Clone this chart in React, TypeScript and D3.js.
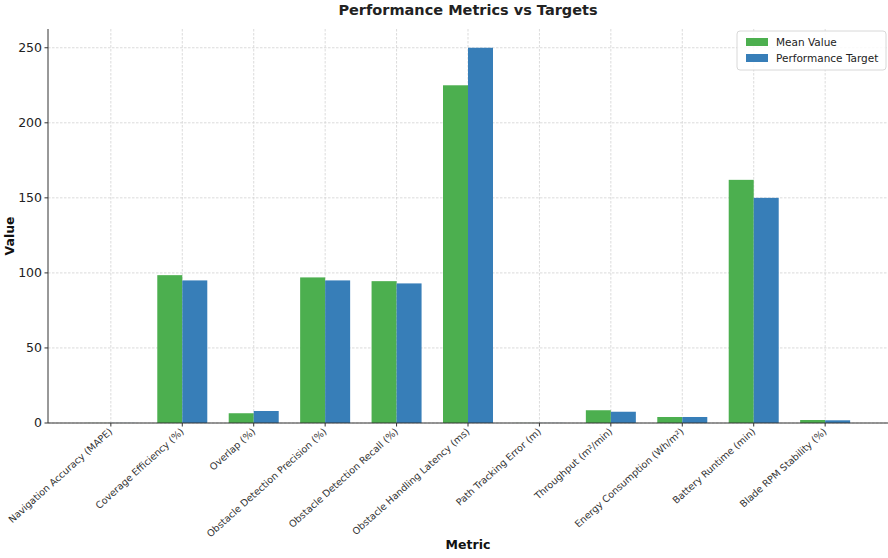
import React from "react";
import * as d3 from "d3";

const metrics = [
  "Navigation Accuracy (MAPE)",
  "Coverage Efficiency (%)",
  "Overlap (%)",
  "Obstacle Detection Precision (%)",
  "Obstacle Detection Recall (%)",
  "Obstacle Handling Latency (ms)",
  "Path Tracking Error (m)",
  "Throughput (m²/min)",
  "Energy Consumption (Wh/m²)",
  "Battery Runtime (min)",
  "Blade RPM Stability (%)",
];
const meanValues = [0.05, 98.5, 6.5, 97, 94.5, 225, 0.05, 8.5, 4, 162, 2];
const targetValues = [0.05, 95, 8, 95, 93, 250, 0.05, 7.5, 4, 150, 1.8];
const yTicks = [0, 50, 100, 150, 200, 250];

const W = 888;
const H = 558;
const M = { left: 48, right: 888, top: 29, bottom: 423 };
const GREEN = "#4caf4f";
const BLUE = "#377eb8";
const FONT = "DejaVu Sans, sans-serif";

export default function App() {
  const x = d3
    .scaleLinear()
    .domain([-0.88, metrics.length - 1 + 0.88])
    .range([M.left, M.right]);
  const y = d3.scaleLinear().domain([0, 262.5]).range([M.bottom, M.top]);
  const bw = 0.35;
  const barW = x(bw) - x(0);

  return (
    <svg
      width={W}
      height={H}
      style={{ position: "absolute", left: 0, top: 0, background: "#fff" }}
      fontFamily={FONT}
    >
      {/* grid */}
      {yTicks.map((t) => (
        <line
          key={"gy" + t}
          x1={M.left}
          x2={M.right}
          y1={y(t)}
          y2={y(t)}
          stroke="#d2d2d2"
          strokeWidth={0.8}
          strokeDasharray="2.5,1.5"
        />
      ))}
      {metrics.map((m, i) => (
        <line
          key={"gx" + i}
          x1={x(i)}
          x2={x(i)}
          y1={M.top}
          y2={M.bottom}
          stroke="#d2d2d2"
          strokeWidth={0.8}
          strokeDasharray="2.5,1.5"
        />
      ))}

      {/* bars */}
      {meanValues.map((v, i) => (
        <rect
          key={"m" + i}
          x={x(i - bw)}
          y={y(v)}
          width={barW}
          height={y(0) - y(v)}
          fill={GREEN}
        />
      ))}
      {targetValues.map((v, i) => (
        <rect
          key={"t" + i}
          x={x(i)}
          y={y(v)}
          width={barW}
          height={y(0) - y(v)}
          fill={BLUE}
        />
      ))}

      {/* axes */}
      <line x1={M.left} x2={M.left} y1={M.top} y2={M.bottom} stroke="#333" strokeWidth={1} />
      <line x1={M.left} x2={M.right} y1={M.bottom} y2={M.bottom} stroke="#333" strokeWidth={1} />
      {yTicks.map((t) => (
        <g key={"yt" + t}>
          <line x1={M.left - 3.5} x2={M.left} y1={y(t)} y2={y(t)} stroke="#333" />
          <text
            x={M.left - 6}
            y={y(t)}
            dy="0.35em"
            textAnchor="end"
            fontSize={12.5}
            fill="#222"
          >
            {t}
          </text>
        </g>
      ))}
      {metrics.map((m, i) => (
        <g key={"xt" + i}>
          <line x1={x(i)} x2={x(i)} y1={M.bottom} y2={M.bottom + 3.5} stroke="#333" />
          <text
            transform={`translate(${x(i)},${M.bottom + 7}) rotate(-42)`}
            textAnchor="end"
            dy="0.35em"
            fontSize={9.6}
            fill="#333"
          >
            {m}
          </text>
        </g>
      ))}

      {/* labels */}
      <text
        x={(M.left + M.right) / 2}
        y={15}
        textAnchor="middle"
        fontSize={14.5}
        fontWeight="bold"
        fill="#222"
      >
        Performance Metrics vs Targets
      </text>
      <text
        x={(M.left + M.right) / 2}
        y={549}
        textAnchor="middle"
        fontSize={12.5}
        fontWeight="bold"
        fill="#111"
      >
        Metric
      </text>
      <text
        transform={`translate(14,${(M.top + M.bottom) / 2 + 10}) rotate(-90)`}
        textAnchor="middle"
        fontSize={12.5}
        fontWeight="bold"
        fill="#111"
      >
        Value
      </text>

      {/* legend */}
      <g transform="translate(737,31)">
        <rect
          width={149}
          height={39}
          rx={3}
          fill="#fff"
          fillOpacity={0.85}
          stroke="#d8d8d8"
        />
        <rect x={9} y={7} width={22} height={8} fill={GREEN} />
        <text x={39} y={11} dy="0.35em" fontSize={10.5} fill="#222">
          Mean Value
        </text>
        <rect x={9} y={23} width={22} height={8} fill={BLUE} />
        <text x={39} y={27} dy="0.35em" fontSize={10.5} fill="#222">
          Performance Target
        </text>
      </g>
    </svg>
  );
}
